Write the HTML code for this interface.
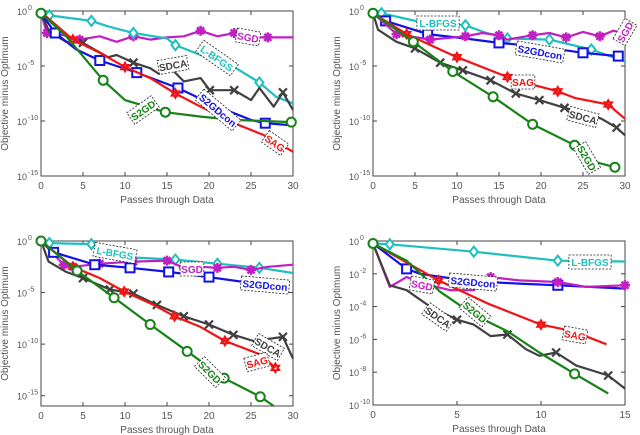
<!DOCTYPE html>
<html><head><meta charset="utf-8"><style>
html,body{margin:0;padding:0;background:#fff;}
svg{display:block;font-family:"Liberation Sans",sans-serif;}
</style></head><body>
<svg id="fig" width="640" height="435" viewBox="0 0 640 435"></svg>
<script>
// ---- data (x = passes through data, y = log10 objective minus optimum) ----
// Panel 1
const p1_SGD_x=[0,0.7,2.7,4.6,7,9,11,13,15,17,19,21,23,25,27,30];
const p1_SGD_y=[-0.2,-2.0,-2.2,-2.6,-2.3,-2.8,-2.3,-2.6,-2.4,-2.3,-1.8,-2.3,-2.0,-2.4,-2.4,-2.4];
const p1_LBFGS_x=[0,1,6,8,11,15,16,19,23,26,28,30];
const p1_LBFGS_y=[-0.2,-0.4,-0.9,-1.4,-2.0,-2.5,-3.1,-4.0,-5.1,-6.5,-7.8,-8.4];
const p1_S2GD_x=[0,3,7.4,10,14.8,19,23,29.8];
const p1_S2GD_y=[-0.2,-2.3,-6.3,-8.1,-9.2,-9.6,-9.9,-10.1];
const p1_S2GDcon_x=[0,1.7,4.2,7,11.4,16.3,21,25,26.7,30];
const p1_S2GDcon_y=[-0.2,-2.0,-3.5,-4.5,-5.6,-7.0,-8.7,-9.9,-10.2,-10.4];
const p1_SAG_x=[0,3.8,7,10,13,16,19,23,26.9,30];
const p1_SAG_y=[-0.1,-2.6,-3.8,-5.1,-6.1,-7.5,-8.7,-10.2,-11.4,-12.8];
const p1_SDCA_x=[0,1,3,5,8,9,11,13,14,15.7,17,19,20.1,23,25,26,27.7,28.8,30];
const p1_SDCA_y=[-0.2,-1.9,-2.8,-2.9,-4.2,-4.0,-4.7,-5.2,-5.7,-5.4,-6.4,-6.1,-7.2,-7.2,-8.1,-7.0,-8.7,-7.4,-9.0];
// Panel 2
const p2_LBFGS_x=[0,1,5.6,11,13.5,16,21,26,30];
const p2_LBFGS_y=[-0.2,-0.2,-1.0,-1.3,-2.0,-2.5,-2.6,-3.5,-4.6];
const p2_S2GDcon_x=[0,1.5,6.5,11,15,19.5,25,29.2];
const p2_S2GDcon_y=[-0.2,-0.9,-2.1,-2.5,-2.9,-3.2,-3.8,-4.1];
const p2_SGD_x=[0,2.8,6.8,11,13,15,16,19,21,23,25,27,28.6,30];
const p2_SGD_y=[-0.2,-2.1,-2.6,-2.3,-2.0,-2.2,-2.6,-2.2,-2.0,-2.4,-1.9,-2.3,-1.8,-2.0];
const p2_SAG_x=[0,4,10,16,19,22,24,28,30];
const p2_SAG_y=[-0.2,-2.1,-4.2,-6.0,-6.7,-7.3,-7.9,-8.5,-9.8];
const p2_SDCA_x=[0,0.6,2.8,5,8,10.7,14,17,19.8,22.8,25.4,27.2,29,30];
const p2_SDCA_y=[-0.2,-1.7,-2.8,-3.4,-4.7,-5.4,-6.3,-7.5,-8.1,-8.8,-9.3,-9.8,-10.6,-11.3];
const p2_S2GD_x=[0,4.8,9.5,14.3,19,24,26.8,28.8];
const p2_S2GD_y=[-0.2,-2.8,-5.5,-7.8,-10.3,-12.2,-13.8,-14.2];
// Panel 3
const p3_LBFGS_x=[0,1,6,11,16,21,26,30];
const p3_LBFGS_y=[0,-0.2,-0.3,-1.6,-1.8,-2.2,-2.6,-3.1];
const p3_SGD_x=[0,2.7,3.8,7,11,15,17,19,21,23,25,27,30];
const p3_SGD_y=[0,-2.3,-2.5,-2.2,-2.0,-1.9,-2.6,-2.5,-2.6,-2.5,-2.8,-2.5,-2.3];
const p3_S2GDcon_x=[0,1.5,6.4,10.6,15.2,20,25.3,29.6];
const p3_S2GDcon_y=[0,-1.1,-2.3,-2.6,-3.0,-3.5,-4.1,-4.3];
const p3_SAG_x=[0,3.8,7,9.9,13.4,15.9,18.9,21.9,26.1,27.9];
const p3_SAG_y=[0,-2.5,-3.6,-4.9,-6.2,-7.3,-8.3,-9.7,-11.0,-12.3];
const p3_SDCA_x=[0,0.9,3,5,8.2,11,13.8,17,20,22.9,25.3,28.8,30];
const p3_SDCA_y=[0,-2.0,-3.0,-3.6,-4.7,-5.1,-6.2,-7.3,-8.1,-9.1,-9.7,-9.3,-11.4];
const p3_S2GD_x=[0,4.3,8.7,13,17.4,21.8,26.1,27.7];
const p3_S2GD_y=[0,-2.9,-5.5,-8.1,-10.7,-13.3,-15.1,-16.0];
// Panel 4
const p4_LBFGS_x=[0,1,6,11,15];
const p4_LBFGS_y=[-0.15,-0.2,-0.65,-1.2,-1.25];
const p4_S2GDcon_x=[0,2,2.8,4.8,6.8,8.7,11,15];
const p4_S2GDcon_y=[-0.15,-1.7,-2.0,-2.3,-2.5,-2.6,-2.7,-2.9];
const p4_SGD_x=[0,1,2,3.4,4.6,6,7,8.7,11,12.7,15];
const p4_SGD_y=[-0.15,-2.8,-2.2,-2.7,-3.0,-3.0,-2.2,-2.4,-2.5,-2.8,-2.7];
const p4_SAG_x=[0,3.9,6.8,10,11.9,13.9];
const p4_SAG_y=[-0.15,-2.4,-3.8,-5.1,-5.5,-6.3];
const p4_SDCA_x=[0,1,2,3.4,5,6,7,8,9.1,9.9,10.9,12.1,14,15];
const p4_SDCA_y=[-0.15,-2.7,-3.0,-4.0,-4.8,-5.1,-5.8,-5.7,-6.6,-7.0,-6.8,-7.6,-8.2,-9.0];
const p4_S2GD_x=[0,2,4,6,8,9.9,12,14];
const p4_S2GD_y=[-0.15,-1.2,-3.1,-4.5,-5.5,-6.8,-8.1,-9.3];

const xTicks30=[0,5,10,15,20,25,30];
const xTicks15=[0,5,10,15];
const yTicks5=[0,-5,-10,-15];
const yTicks2=[0,-2,-4,-6,-8,-10];

const NS="http://www.w3.org/2000/svg";
const svg=document.getElementById('fig');
function mk(tag,attrs,parent){const e=document.createElementNS(NS,tag);for(const k in attrs)e.setAttribute(k,attrs[k]);(parent||svg).appendChild(e);return e;}

const COL={SGD:'#c21fc2',LBFGS:'#1fbfbf',S2GD:'#168316',S2GDcon:'#1212e6',SAG:'#f21414',SDCA:'#404040'};
const LBL={SGD:'SGD',LBFGS:'L-BFGS',S2GD:'S2GD',S2GDcon:'S2GDcon',SAG:'SAG',SDCA:'SDCA'};

function marker(g,type,cx,cy,c){
  let e;
  if(type==='SGD'){e=mk('path',{d:`M${cx-5},${cy}H${cx+5}M${cx},${cy-5}V${cy+5}M${cx-3.5},${cy-3.5}L${cx+3.5},${cy+3.5}M${cx-3.5},${cy+3.5}L${cx+3.5},${cy-3.5}`,stroke:c,'stroke-width':2.5,fill:'none'},g);}
  else if(type==='LBFGS'){e=mk('path',{d:`M${cx},${cy-5}L${cx+4},${cy}L${cx},${cy+5}L${cx-4},${cy}Z`,stroke:c,'stroke-width':2,fill:'#fff'},g);}
  else if(type==='S2GD'){e=mk('circle',{cx:cx,cy:cy,r:4.5,stroke:c,'stroke-width':2,fill:'#fff'},g);}
  else if(type==='S2GDcon'){e=mk('rect',{x:cx-4.5,y:cy-4.5,width:9,height:9,stroke:c,'stroke-width':2,fill:'#fff'},g);}
  else if(type==='SAG'){const r=4.5,h=r*0.5;e=mk('path',{d:`M${cx},${cy-r}L${cx+r*0.87},${cy+h}L${cx-r*0.87},${cy+h}ZM${cx},${cy+r}L${cx+r*0.87},${cy-h}L${cx-r*0.87},${cy-h}Z`,stroke:c,'stroke-width':1.8,fill:'#fff'},g);}
  else {e=mk('path',{d:`M${cx-4},${cy-4}L${cx+4},${cy+4}M${cx-4},${cy+4}L${cx+4},${cy-4}`,stroke:c,'stroke-width':2.2},g);}
  
  
}

function panel(id,box,xmax,ymin,xt,yt,series,labels){
  const g=mk('g',{});
  
  
  const X=v=>box.x0+(v/xmax)*(box.x1-box.x0);
  const Y=v=>box.y0+(v/ymin)*(box.y1-box.y0);
  const fr=mk('rect',{x:box.x0,y:box.y0,width:box.x1-box.x0,height:box.y1-box.y0,fill:'none',stroke:'#444','stroke-width':1},g);
  
  
  xt.forEach(t=>{
    const x=X(t);
    mk('line',{x1:x,x2:x,y1:box.y1,y2:box.y1-4,stroke:'#444'},g);
    mk('line',{x1:x,x2:x,y1:box.y0,y2:box.y0+4,stroke:'#444'},g);
    const tx=mk('text',{x:x,y:box.y1+13,'font-size':10,'text-anchor':'middle',fill:'#555'},g);
    tx.textContent=t;
    
    
  });
  yt.forEach(t=>{
    const y=Y(t);
    mk('line',{x1:box.x0,x2:box.x0+4,y1:y,y2:y,stroke:'#444'},g);
    mk('line',{x1:box.x1,x2:box.x1-4,y1:y,y2:y,stroke:'#444'},g);
    const tx=mk('text',{x:box.x0-14,y:y+4,'font-size':9,'text-anchor':'end',fill:'#555'},g);
    tx.textContent='10';
    
    
    const sp=mk('text',{x:box.x0-13,y:y-1,'font-size':7,'text-anchor':'start',fill:'#555'},g);
    sp.textContent=String(t);
    
    
  });
  const xl=mk('text',{x:(box.x0+box.x1)/2,y:box.y1+27,'font-size':10,'text-anchor':'middle',fill:'#555'},g);
  xl.textContent='Passes through Data';
  
  
  const cy=(box.y0+box.y1)/2, cxl=box.x0-33;
  const yl=mk('text',{x:cxl,y:cy,'font-size':10,'text-anchor':'middle',fill:'#555',transform:`rotate(-90 ${cxl} ${cy})`},g);
  yl.textContent='Objective minus Optimum';
  
  
  series.forEach(s=>{
    const pts=s.x.map((v,i)=>X(v).toFixed(1)+','+Y(s.y[i]).toFixed(1)).join(' ');
    const pl=mk('polyline',{points:pts,fill:'none',stroke:COL[s.k],'stroke-width':2.2,'stroke-linejoin':'round'},g);
    
    
    s.m.forEach(i=>{ if(i<s.x.length) marker(g,s.k,X(s.x[i]),Y(s.y[i]),COL[s.k]); });
  });
  labels.forEach(l=>{
    const lg=mk('g',{transform:`translate(${l.x},${l.y}) rotate(${l.r||0})`},g);
    
    
    const txt=LBL[l.k];const w=txt.length*6.2+5;
    mk('rect',{x:-w/2,y:-7,width:w,height:14,fill:'#fff',stroke:'#222','stroke-width':0.8,'stroke-dasharray':'2,1.5'},lg);
    const t=mk('text',{x:0,y:4,'font-size':10,'font-weight':'bold','text-anchor':'middle',fill:COL[l.k]},lg);
    t.textContent=txt;
  });
}

panel('panel-top-left',{x0:41,x1:293,y0:11,y1:176},30,-15,xTicks30,yTicks5,[
 {k:'SGD',x:p1_SGD_x,y:p1_SGD_y,m:[1,3,6,10,12,14]},
 {k:'LBFGS',x:p1_LBFGS_x,y:p1_LBFGS_y,m:[1,2,4,6,9]},
 {k:'SDCA',x:p1_SDCA_x,y:p1_SDCA_y,m:[3,6,12,13,17]},
 {k:'S2GDcon',x:p1_S2GDcon_x,y:p1_S2GDcon_y,m:[1,3,4,5,8]},
 {k:'SAG',x:p1_SAG_x,y:p1_SAG_y,m:[1,3,5]},
 {k:'S2GD',x:p1_S2GD_x,y:p1_S2GD_y,m:[0,2,4,7]}
],[{k:'SGD',x:248,y:37,r:10},{k:'LBFGS',x:217,y:58,r:35},{k:'SDCA',x:173,y:65,r:-10},{k:'S2GDcon',x:218,y:110,r:40},{k:'S2GD',x:143,y:110,r:-35},{k:'SAG',x:275,y:143,r:35}]);

panel('panel-top-right',{x0:373,x1:625,y0:11,y1:176},30,-15,xTicks30,yTicks5,[
 {k:'LBFGS',x:p2_LBFGS_x,y:p2_LBFGS_y,m:[1,3,5,6,7]},
 {k:'S2GDcon',x:p2_S2GDcon_x,y:p2_S2GDcon_y,m:[1,2,4,6,7]},
 {k:'SGD',x:p2_SGD_x,y:p2_SGD_y,m:[1,2,3,5,7,9,11]},
 {k:'SAG',x:p2_SAG_x,y:p2_SAG_y,m:[1,2,3,5,7]},
 {k:'SDCA',x:p2_SDCA_x,y:p2_SDCA_y,m:[3,4,5,6,7,8,9,12]},
 {k:'S2GD',x:p2_S2GD_x,y:p2_S2GD_y,m:[0,1,2,3,4,5,7]}
],[{k:'LBFGS',x:438,y:23,r:0},{k:'SGD',x:625,y:32,r:-60},{k:'S2GDcon',x:540,y:52,r:10},{k:'SAG',x:523,y:82,r:0},{k:'SDCA',x:583,y:117,r:15},{k:'S2GD',x:587,y:158,r:60}]);

panel('panel-bottom-left',{x0:41,x1:293,y0:241,y1:406},30,-16,xTicks30,yTicks5,[
 {k:'LBFGS',x:p3_LBFGS_x,y:p3_LBFGS_y,m:[1,2,4,5,6]},
 {k:'SGD',x:p3_SGD_x,y:p3_SGD_y,m:[1,2,3,4,5,6,8,10]},
 {k:'S2GDcon',x:p3_S2GDcon_x,y:p3_S2GDcon_y,m:[1,2,3,4,5]},
 {k:'SDCA',x:p3_SDCA_x,y:p3_SDCA_y,m:[3,4,5,6,7,8,9,11]},
 {k:'SAG',x:p3_SAG_x,y:p3_SAG_y,m:[1,3,5,7,9]},
 {k:'S2GD',x:p3_S2GD_x,y:p3_S2GD_y,m:[0,1,2,3,4,5,6]}
],[{k:'LBFGS',x:115,y:253,r:10},{k:'SGD',x:192,y:269,r:0},{k:'S2GDcon',x:265,y:285,r:5},{k:'SDCA',x:268,y:347,r:30},{k:'SAG',x:257,y:362,r:-15},{k:'S2GD',x:210,y:372,r:45}]);

panel('panel-bottom-right',{x0:373,x1:625,y0:241,y1:405},15,-10,xTicks15,yTicks2,[
 {k:'LBFGS',x:p4_LBFGS_x,y:p4_LBFGS_y,m:[1,2,3]},
 {k:'S2GDcon',x:p4_S2GDcon_x,y:p4_S2GDcon_y,m:[1,6]},
 {k:'SGD',x:p4_SGD_x,y:p4_SGD_y,m:[6,8,10]},
 {k:'SAG',x:p4_SAG_x,y:p4_SAG_y,m:[1,3]},
 {k:'SDCA',x:p4_SDCA_x,y:p4_SDCA_y,m:[4,7,10,12]},
 {k:'S2GD',x:p4_S2GD_x,y:p4_S2GD_y,m:[0,6]}
],[{k:'LBFGS',x:590,y:262,r:0},{k:'SGD',x:422,y:285,r:10},{k:'S2GDcon',x:473,y:282,r:5},{k:'SDCA',x:438,y:317,r:35},{k:'S2GD',x:475,y:312,r:40},{k:'SAG',x:575,y:335,r:10}]);
</script>
</body></html>
